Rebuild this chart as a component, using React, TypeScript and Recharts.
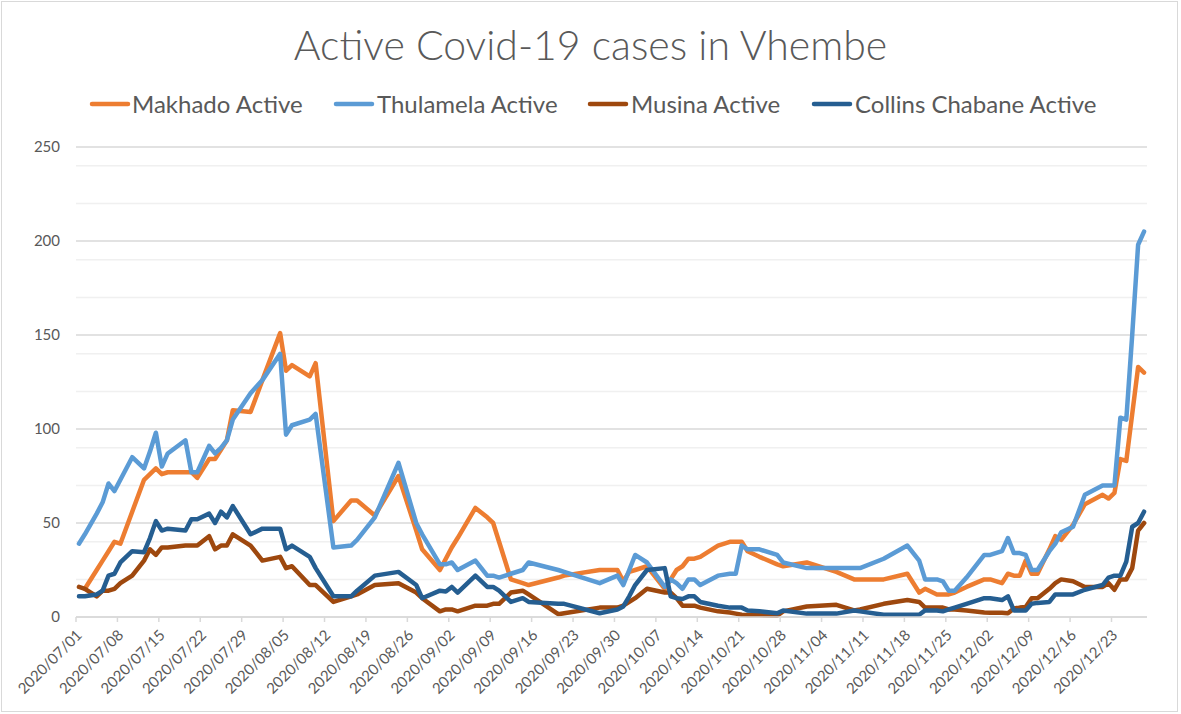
import React from 'react';
import { LineChart, Line, XAxis, YAxis, CartesianGrid } from 'recharts';

// dates of the reported values (gaps = no report that day)
const dates = [
  '2020/07/01', '2020/07/02', '2020/07/04', '2020/07/05', '2020/07/06', '2020/07/07', '2020/07/08', '2020/07/10', '2020/07/12', '2020/07/13',
  '2020/07/14', '2020/07/15', '2020/07/16', '2020/07/19', '2020/07/20', '2020/07/21', '2020/07/23', '2020/07/24', '2020/07/25', '2020/07/26',
  '2020/07/27', '2020/07/30', '2020/08/01', '2020/08/04', '2020/08/05', '2020/08/06', '2020/08/09', '2020/08/10', '2020/08/13', '2020/08/16',
  '2020/08/17', '2020/08/20', '2020/08/24', '2020/08/27', '2020/08/28', '2020/08/31', '2020/09/01', '2020/09/02', '2020/09/03', '2020/09/06',
  '2020/09/08', '2020/09/09', '2020/09/10', '2020/09/12', '2020/09/14', '2020/09/15', '2020/09/20', '2020/09/21', '2020/09/27', '2020/09/30',
  '2020/10/01', '2020/10/02', '2020/10/03', '2020/10/05', '2020/10/08', '2020/10/09', '2020/10/10', '2020/10/11', '2020/10/12', '2020/10/13',
  '2020/10/14', '2020/10/17', '2020/10/19', '2020/10/20', '2020/10/21', '2020/10/22', '2020/10/24', '2020/10/27', '2020/10/28', '2020/11/01',
  '2020/11/06', '2020/11/09', '2020/11/10', '2020/11/14', '2020/11/18', '2020/11/20', '2020/11/21', '2020/11/23', '2020/11/24', '2020/11/25',
  '2020/11/26', '2020/11/28', '2020/12/01', '2020/12/02', '2020/12/04', '2020/12/05', '2020/12/06', '2020/12/07', '2020/12/08', '2020/12/09',
  '2020/12/10', '2020/12/12', '2020/12/13', '2020/12/14', '2020/12/16', '2020/12/18', '2020/12/21', '2020/12/22', '2020/12/23', '2020/12/24',
  '2020/12/25', '2020/12/26', '2020/12/27', '2020/12/28',
];

const makhado = [
  null, 15, 25, 30, 35, 40, 39, 56, 73, 76,
  79, 76, 77, 77, 77, 74, 84, 84, 89, 94,
  110, 109, 126, 151, 131, 134, 128, 135, 51, 62,
  62, 54, 75, 46, 36, 25, 31, 37, 42, 58,
  53, 50, 40, 20, 18, 17, 21, 22, 25, 25,
  19, 24, 25, 27, 15, 20, 25, 27, 31, 31,
  32, 38, 40, 40, 40, 35, 32, 28, 27, 29,
  24, 20, 20, 20, 23, 13, 15, 12, 12, 12,
  13, 16, 20, 20, 18, 23, 22, 22, 30, 23,
  23, 36, 43, 41, 49, 60, 65, 63, 66, 84,
  83, 108, 133, 130,
];

const thulamela = [
  39, 44, 55, 61, 71, 67, 73, 85, 79, 88,
  98, 80, 87, 94, 77, 77, 91, 87, 90, 94,
  105, 119, 126, 140, 97, 102, 105, 108, 37, 38,
  41, 53, 82, 50, 44, 28, 28, 29, 25, 30,
  22, 22, 21, 23, 25, 29, 25, 24, 18, 22,
  17, 25, 33, 29, 16, 20, 18, 15, 20, 20,
  17, 22, 23, 23, 38, 36, 36, 33, 29, 26,
  26, 26, 26, 31, 38, 30, 20, 20, 19, 14,
  14, 21, 33, 33, 35, 42, 34, 34, 33, 25,
  25, 35, 39, 45, 48, 65, 70, 70, 70, 106,
  105, 150, 198, 205,
];

const musina = [
  16, 15, 11, 14, 14, 15, 18, 22, 30, 36,
  33, 37, 37, 38, 38, 38, 43, 36, 38, 38,
  44, 38, 30, 32, 26, 27, 17, 17, 8, 11,
  12, 17, 18, 13, 10, 3, 4, 4, 3, 6,
  6, 7, 7, 13, 14, 12, 1.5, 2, 5, 5,
  6, 8, 10, 15, 13, 13, 10, 6, 6, 6,
  5, 3, 2.4, 1.8, 1.2, 1, 1, 0.7, 3, 5.6,
  6.5, 3.5, 4, 7, 9, 8, 5, 5, 5, 4,
  4, 3.5, 2.4, 2.3, 2.2, 2, 4.5, 5, 5.3, 10,
  10, 15, 18, 20, 19, 16, 16, 18, 14.5, 20,
  20, 26, 46, 50,
];

const collinsChabane = [
  11, 11, 12, 14, 22, 23, 29, 35, 34.5, 42,
  51, 46, 47, 46, 52, 52, 55, 50, 56, 53,
  59, 44, 47, 47, 36, 38, 32, 26, 11, 11,
  14, 22, 24, 17, 10, 14, 13.6, 16, 13, 22,
  16, 16, 14, 8, 10, 8, 7, 7, 2, 4,
  5.6, 11, 17, 25, 26, 11, 10, 9.6, 11, 11,
  8, 6, 5, 5, 5, 3.5, 3, 2, 3.5, 1.8,
  1.8, 3.5, 3, 1.2, 1.2, 1.2, 3.5, 3.5, 3, 4,
  5, 7, 10, 10, 9, 11, 3.5, 3.5, 3.5, 7,
  7.5, 8, 12, 12, 12, 14.5, 17, 21, 22, 22,
  29.5, 48, 50, 56,
];

const tickDates = [
  '2020/07/01', '2020/07/08', '2020/07/15', '2020/07/22', '2020/07/29', '2020/08/05', '2020/08/12',
  '2020/08/19', '2020/08/26', '2020/09/02', '2020/09/09', '2020/09/16', '2020/09/23', '2020/09/30',
  '2020/10/07', '2020/10/14', '2020/10/21', '2020/10/28', '2020/11/04', '2020/11/11', '2020/11/18',
  '2020/11/25', '2020/12/02', '2020/12/09', '2020/12/16', '2020/12/23',
];

const yTicks = [0, 50, 100, 150, 200, 250];
const minorY = [10, 20, 30, 40, 60, 70, 80, 90, 110, 120, 130, 140, 160, 170, 180, 190, 210, 220, 230, 240];

const series = [
  { key: 'makhado', name: 'Makhado Active', color: '#ED7D31' },
  { key: 'thulamela', name: 'Thulamela Active', color: '#5B9BD5' },
  { key: 'musina', name: 'Musina Active', color: '#9E480E' },
  { key: 'collins', name: 'Collins Chabane Active', color: '#255E91' },
];

const START = Date.UTC(2020, 6, 1);
const dayOf = (s: string) => {
  const [y, m, d] = s.split('/').map(Number);
  return (Date.UTC(y, m - 1, d) - START) / 86400000;
};

// excel date axis puts each day in the middle of its slot
const data = dates.map((d, i) => ({
  x: dayOf(d) + 0.5,
  makhado: makhado[i],
  thulamela: thulamela[i],
  musina: musina[i],
  collins: collinsChabane[i],
}));

const xTicks = tickDates.map(dayOf);
const FONT = 'Lato, "Open Sans", sans-serif';

const DateTick = ({ x, y, payload }: any) => {
  const label = tickDates[xTicks.indexOf(payload.value)];
  const tx = x + 7;
  const ty = y + 12;
  return (
    <text x={tx} y={ty} transform={`rotate(-45 ${tx} ${ty})`} textAnchor='end' fill='#595959' fontSize={15} fontFamily={FONT}>
      {label}
    </text>
  );
};

const legendPos = [
  { line: 90, text: 132 },
  { line: 334, text: 377 },
  { line: 588, text: 631 },
  { line: 812, text: 855 },
];

const App: React.FC = () => (
  <div style={{ position: 'absolute', left: 0, top: 0, width: 1181, height: 714, background: '#fff' }}>
    <div style={{ position: 'absolute', left: 1, top: 1, width: 1175, height: 709, border: '1px solid #d9d9d9' }} />
    <LineChart width={1181} height={714} data={data} margin={{ top: 147, right: 34, left: 16, bottom: 0 }}>
      <CartesianGrid horizontalValues={minorY} vertical={false} stroke='#f0f0f0' strokeWidth={1.5} />
      <CartesianGrid vertical={false} stroke='#d9d9d9' strokeWidth={1.5} />
      <XAxis
        type='number'
        dataKey='x'
        domain={[0, 181]}
        ticks={xTicks}
        interval={0}
        stroke='#d9d9d9'
        strokeWidth={1.5}
        tickSize={5}
        tickMargin={2}
        height={97}
        tick={<DateTick />}
      />
      <YAxis
        domain={[0, 250]}
        ticks={yTicks}
        axisLine={false}
        tickLine={false}
        tickSize={0}
        tickMargin={16}
        width={60}
        tick={{ fill: '#595959', fontSize: 15, fontFamily: FONT }}
      />
      {series.map(s => (
        <Line
          key={s.key}
          type='linear'
          dataKey={s.key}
          name={s.name}
          stroke={s.color}
          strokeWidth={4.5}
          strokeLinejoin='round'
          strokeLinecap='round'
          dot={false}
          connectNulls
          isAnimationActive={false}
        />
      ))}
    </LineChart>
    <svg width={1181} height={140} style={{ position: 'absolute', left: 0, top: 0, pointerEvents: 'none' }}>
      <text x={590.5} y={60} textAnchor='middle' fontFamily={FONT} fontWeight={300} fontSize={41} fill='#595959'>
        Active Covid-19 cases in Vhembe
      </text>
      {series.map((s, i) => (
        <g key={s.key}>
          <line x1={legendPos[i].line + 2} x2={legendPos[i].line + 38} y1={104} y2={104} stroke={s.color} strokeWidth={4.5} strokeLinecap='round' />
          <text x={legendPos[i].text} y={113} fontFamily={FONT} fontSize={24} fill='#595959'>
            {s.name}
          </text>
        </g>
      ))}
    </svg>
  </div>
);

export default App;
